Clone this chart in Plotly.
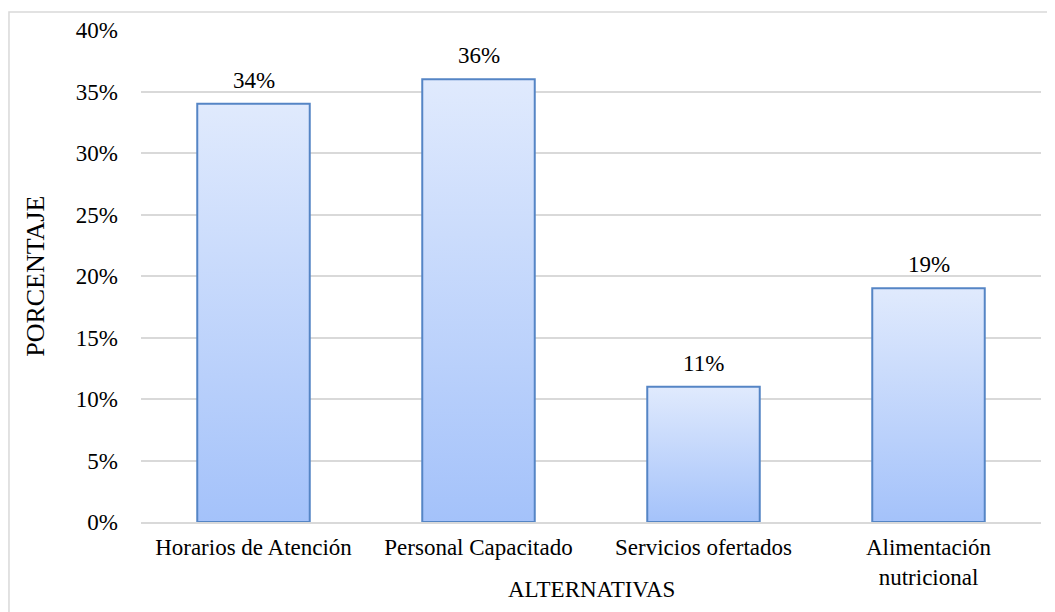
import plotly.graph_objects as go

categorias = ["Horarios de Atención", "Personal Capacitado", "Servicios ofertados",
              "Alimentación<br>nutricional"]
porcentajes = [34, 36, 11, 19]
ticks_y = [0, 5, 10, 15, 20, 25, 30, 35, 40]

serif = "Liberation Serif"
ancho = 0.25
tam = 23

fig = go.Figure()

# bars as filled shapes so the vertical gradient can be used
for i, v in enumerate(porcentajes):
    fig.add_trace(go.Scatter(
        x=[i - ancho, i + ancho, i + ancho, i - ancho, i - ancho],
        y=[0, 0, v, v, 0],
        mode="lines",
        fill="toself",
        fillgradient=dict(type="vertical",
                          colorscale=[[0, "#a4c2fa"], [1, "#e0eafd"]]),
        line=dict(color="#5585c5", width=2),
        hoverinfo="skip",
        showlegend=False,
    ))

etiquetas = [dict(x=i, y=v, text=f"{v}%", showarrow=False,
                  yanchor="bottom", yshift=9,
                  font=dict(family=serif, size=tam, color="black"))
             for i, v in enumerate(porcentajes)]

# page has an 8px body margin, so the figure is a bit smaller than the window
fig.update_layout(
    width=1047, height=604,
    margin=dict(l=133, r=14, t=22, b=90),
    paper_bgcolor="white",
    plot_bgcolor="white",
    font=dict(family=serif, size=tam, color="black"),
    annotations=etiquetas + [
        dict(text="ALTERNATIVAS", xref="paper", yref="paper", x=0.5, y=-0.138,
             yanchor="middle", showarrow=False, font=dict(size=tam)),
        dict(text="PORCENTAJE", xref="paper", yref="paper", x=-0.118, y=0.5,
             textangle=-90, xanchor="center", showarrow=False, font=dict(size=26)),
    ],
    shapes=[dict(type="rect", xref="paper", yref="paper",
                 x0=-0.1467, x1=1.018, y0=-0.2, y1=1.0366,
                 line=dict(color="#d9d9d9", width=1.5), layer="below")],
)
fig.update_xaxes(
    range=[-0.5, len(categorias) - 0.5],
    tickvals=list(range(len(categorias))),
    ticktext=categorias,
    showgrid=False, zeroline=False, automargin=False,
    showline=True, linecolor="#d9d9d9", linewidth=1.5,
    ticks="", ticklabelstandoff=4,
    tickfont=dict(family=serif, size=tam),
)
fig.update_yaxes(
    range=[0, 40],
    tickvals=ticks_y,
    ticktext=[f"{t}%" for t in ticks_y],
    showgrid=True, gridcolor="#d9d9d9", gridwidth=1.5,
    zeroline=False, ticks="", ticklabelstandoff=22, automargin=False,
    tickfont=dict(family=serif, size=tam),
)

fig.write_html("out.html")
